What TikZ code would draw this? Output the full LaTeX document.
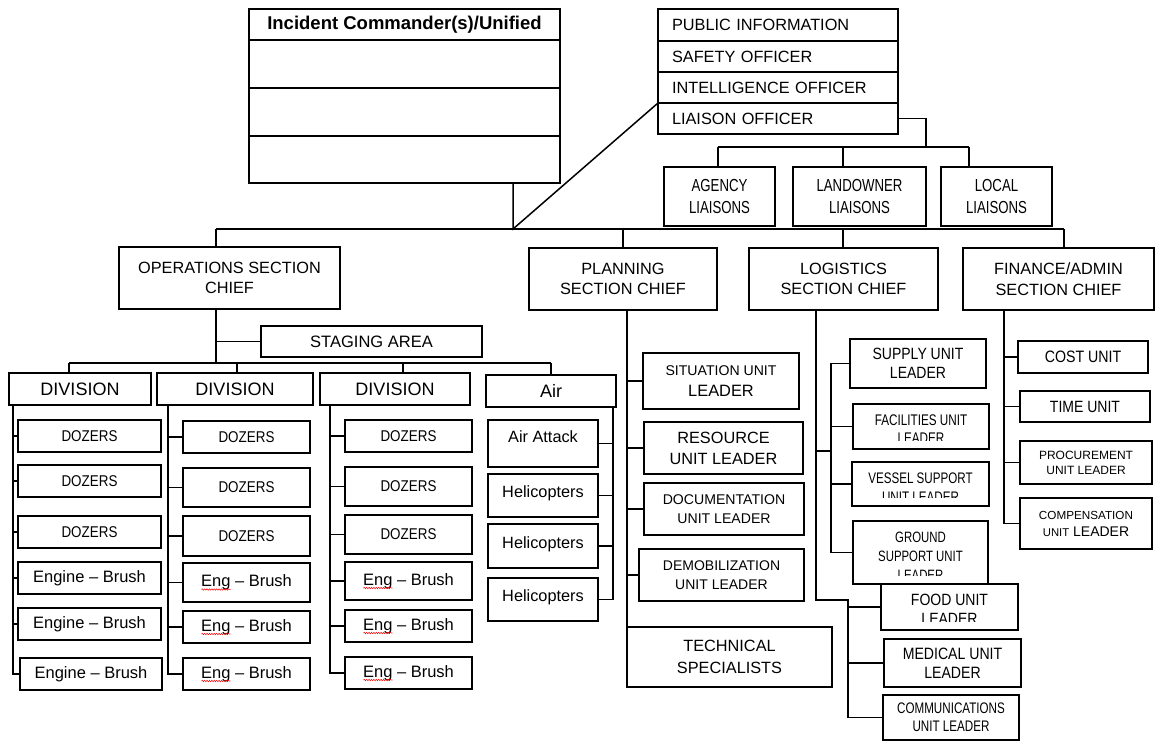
\documentclass[tikz,border=0pt]{standalone}
\usepackage{fontspec}
\usetikzlibrary{decorations.pathmorphing}
\setmainfont{Liberation Sans}
\newfontfamily\narrowfont{Liberation Sans}[FakeStretch=0.76]
\newfontfamily\semifont{Liberation Sans}[FakeStretch=0.86]
\newcommand{\fz}[2]{\fontsize{#1}{#2}\selectfont}
\tikzset{
    box/.style={draw, line width=1.5pt, anchor=north west, inner sep=0pt, outer sep=0pt, align=center},
    wh/.style 2 args={minimum width=#1pt, minimum height=#2pt},
    link/.style={line width=1.5pt},
    officer/.style={box, align=left, text width=212pt, inner xsep=14pt, font=\fz{16.3}{20}},
    liaisons/.style={box, font=\narrowfont\fz{17.4}{22.5}},
    chief/.style={box, font=\fz{16.3}{20.7}},
    division/.style={box, font=\fz{18}{22}},
    dozer/.style={box, font=\semifont\fz{15.6}{19}},
    engine/.style={box, font=\fz{16.5}{20}},
    aircraft/.style={box, font=\fz{16.3}{20}, text depth=#1pt},
    cuttext/.style={anchor=north, inner sep=0pt, align=center},
    spellmark/.style={red, line width=0.5pt, decorate, decoration={snake, amplitude=0.7pt, segment length=2.4pt}},
}
\begin{document}
\begin{tikzpicture}[x=1pt, y=-1pt]
    \useasboundingbox (0,0) rectangle (1155,742);

    \node[box, wh={311}{31}, font=\bfseries\fz{18.5}{22}] (ic) at (249,9) {Incident Commander(s)/Unified};
    \node[box, wh={311}{48}] (ic1) at (249,40) {};
    \node[box, wh={311}{48}] (ic2) at (249,88) {};
    \node[box, wh={311}{47}] (ic3) at (249,136) {};

    \node[officer, wh={240}{32}] (pio) at (658,9) {PUBLIC INFORMATION};
    \node[officer, wh={240}{31}] (safety) at (658,41) {SAFETY OFFICER};
    \node[officer, wh={240}{31}] (intel) at (658,72) {INTELLIGENCE OFFICER};
    \node[officer, wh={240}{31}] (liaison) at (658,103) {LIAISON OFFICER};

    \node[liaisons, wh={111}{59}] (agency) at (664,167) {AGENCY\\LIAISONS};
    \node[liaisons, wh={133}{59}] (landowner) at (793,167) {LANDOWNER\\LIAISONS};
    \node[liaisons, wh={111}{59}] (local) at (941,167) {LOCAL\\LIAISONS};

    \coordinate (lr) at (926,147);
    \coordinate (la) at (718,147);
    \coordinate (lb) at (843,147);
    \coordinate (lc) at (969,147);
    \draw[link] (liaison.east) -| (lr);
    \draw[link] (la) -- (lc);
    \draw[link] (la) -- (la |- agency.north);
    \draw[link] (lb) -- (lb |- landowner.north);
    \draw[link] (lc) -- (lc |- local.north);

    \node[chief, wh={221}{62}] (ops) at (119,247) {OPERATIONS SECTION\\CHIEF};
    \node[chief, wh={188}{62}] (plan) at (529,248) {PLANNING\\SECTION CHIEF};
    \node[chief, wh={189}{62}] (log) at (749,248) {LOGISTICS\\SECTION CHIEF};
    \node[chief, wh={191}{62}] (fin) at (963,248) {FINANCE/ADMIN\\SECTION CHIEF};

    \coordinate (icx) at (513,229);
    \draw[link] (ic3.south -| icx) -- (icx) -- (liaison.north west);
    \coordinate (opsx) at (216,229);
    \coordinate (planx) at (623,229);
    \coordinate (logx) at (843,229);
    \coordinate (finx) at (1064,229);
    \draw[link] (opsx) -- (finx);
    \foreach \p/\n in {opsx/ops, planx/plan, logx/log, finx/fin}
        \draw[link] (\p) -- (\p |- \n.north);

    % operations
    \node[box, wh={221}{31}, font=\fz{16.5}{20}] (staging) at (261,326) {STAGING AREA};
    \coordinate (divbus) at (216,363);
    \draw[link] (ops.south -| divbus) -- (divbus);
    \draw[link] (staging.west) -- (staging.west -| divbus);

    \node[division, wh={142}{32}] (div1) at (9,373) {DIVISION};
    \node[division, wh={156}{32}] (div2) at (157,373) {DIVISION};
    \node[division, wh={150}{32}] (div3) at (320,373) {DIVISION};
    \node[division, wh={130}{32}] (air) at (486,375) {Air};

    \coordinate (da) at (69,363);
    \coordinate (db) at (237,363);
    \coordinate (dc) at (403,363);
    \coordinate (dd) at (551,363);
    \draw[link] (da) -- (dd);
    \foreach \p/\n in {da/div1, db/div2, dc/div3, dd/air}
        \draw[link] (\p) -- (\p |- \n.north);

    \node[dozer, wh={143}{32}] (d1a) at (18,420) {DOZERS};
    \node[dozer, wh={143}{32}] (d1b) at (18,465) {DOZERS};
    \node[dozer, wh={143}{32}] (d1c) at (18,516) {DOZERS};
    \node[engine, wh={143}{32}] (d1d) at (18,562) {Engine – Brush};
    \node[engine, wh={143}{32}] (d1e) at (18,608) {Engine – Brush};
    \node[engine, wh={142}{32}] (d1f) at (20,658) {Engine – Brush};

    \node[dozer, wh={127}{32}] (d2a) at (183,421) {DOZERS};
    \node[dozer, wh={127}{39}] (d2b) at (183,468) {DOZERS};
    \node[dozer, wh={127}{40}] (d2c) at (183,516) {DOZERS};
    \node[engine, wh={127}{39}] (d2d) at (183,563) {Eng – Brush};
    \node[engine, wh={127}{32}] (d2e) at (183,611) {Eng – Brush};
    \node[engine, wh={127}{32}] (d2f) at (183,658) {Eng – Brush};

    \node[dozer, wh={127}{32}] (d3a) at (345,420) {DOZERS};
    \node[dozer, wh={127}{39}] (d3b) at (345,467) {DOZERS};
    \node[dozer, wh={127}{39}] (d3c) at (345,515) {DOZERS};
    \node[engine, wh={127}{38}] (d3d) at (345,562) {Eng – Brush};
    \node[engine, wh={127}{32}] (d3e) at (345,610) {Eng – Brush};
    \node[engine, wh={127}{32}] (d3f) at (345,657) {Eng – Brush};

    \foreach \b in {d2d,d2e,d2f,d3d,d3e,d3f}
        \draw[spellmark] ([xshift=-45pt, yshift=-7pt]\b.center) -- ([xshift=-16pt, yshift=-7pt]\b.center);

    \node[aircraft=13, wh={110}{47}] (aa) at (488,420) {Air Attack};
    \node[aircraft=7, wh={110}{43}] (h1) at (488,474) {Helicopters};
    \node[aircraft=7, wh={110}{44}] (h2) at (488,524) {Helicopters};
    \node[aircraft=7, wh={110}{43}] (h3) at (488,578) {Helicopters};

    \coordinate (s1) at (13,0);
    \coordinate (s2) at (168,0);
    \coordinate (s3) at (330,0);
    \coordinate (s4) at (613,0);
    \draw[link] (div1.south -| s1) |- (d1f.west);
    \draw[link] (div2.south -| s2) |- (d2f.west);
    \draw[link] (div3.south -| s3) |- (d3f.west);
    \draw[link] (air.south -| s4) |- (h3.east);
    \foreach \b in {d1a,d1b,d1c,d1d,d1e}
        \draw[link] (\b.west -| s1) -- (\b.west);
    \foreach \b in {d2a,d2b,d2c,d2d,d2e}
        \draw[link] (\b.west -| s2) -- (\b.west);
    \foreach \b in {d3a,d3b,d3c,d3d,d3e}
        \draw[link] (\b.west -| s3) -- (\b.west);
    \foreach \b in {aa,h1,h2}
        \draw[link] (\b.east -| s4) -- (\b.east);

    % planning
    \node[box, wh={156}{56}, font=\fz{16.4}{21}] (situ) at (643,353) {{\fz{14.1}{21}SITUATION UNIT}\\LEADER};
    \node[box, wh={159}{52}, font=\fz{16.3}{21}] (res) at (644,422) {RESOURCE\\UNIT LEADER};
    \node[box, wh={160}{52}, font=\fz{14.1}{19}] (doc) at (644,483) {DOCUMENTATION\\UNIT LEADER};
    \node[box, wh={165}{52}, font=\fz{14}{19}] (demob) at (639,549) {DEMOBILIZATION\\UNIT LEADER};
    \node[box, wh={205}{60}, font=\fz{16.3}{22}] (tech) at (627,627) {TECHNICAL\\SPECIALISTS};

    \coordinate (px) at (627,0);
    \draw[link] (plan.south -| px) -- (tech.north west);
    \foreach \b in {situ,res,doc,demob}
        \draw[link] (\b.west -| px) -- (\b.west);

    % logistics
    \node[box, wh={136}{49}, font=\semifont\fz{16.3}{19}] (supply) at (850,339) {SUPPLY UNIT\\LEADER};
    \node[box, wh={136}{45}] (fac) at (853,404) {};
    \node[box, wh={137}{44}] (vessel) at (852,462) {};
    \node[box, wh={135}{63}] (ground) at (853,521) {};
    \node[box, wh={137}{46}] (food) at (881,584) {};
    \node[box, wh={137}{48}, font=\semifont\fz{16.4}{19}] (med) at (884,639) {MEDICAL UNIT\\LEADER};
    \node[box, wh={136}{45}, font=\narrowfont\fz{15.3}{18}] (comm) at (883,695) {COMMUNICATIONS\\UNIT LEADER};

    \begin{scope}
        \clip (fac.north west) rectangle ([yshift=8.5pt]fac.south east);
        \node[cuttext, font=\narrowfont\fz{15.4}{18}] (factext) at ([yshift=-10.5pt]fac.north) {FACILITIES UNIT\\LEADER};
    \end{scope}
    \begin{scope}
        \clip (vessel.north west) rectangle ([yshift=8.5pt]vessel.south east);
        \node[cuttext, font=\narrowfont\fz{15.3}{19}] (vesseltext) at ([yshift=-10.5pt]vessel.north) {VESSEL SUPPORT\\UNIT LEADER};
    \end{scope}
    \begin{scope}
        \clip (ground.north west) rectangle ([yshift=8.5pt]ground.south east);
        \node[cuttext, font=\narrowfont\fz{15}{19}] (groundtext) at ([yshift=-10.5pt]ground.north) {GROUND\\SUPPORT UNIT\\LEADER};
    \end{scope}
    \begin{scope}
        \clip (food.north west) rectangle ([yshift=8.5pt]food.south east);
        \node[cuttext, font=\semifont\fz{16.3}{18.5}] (foodtext) at ([yshift=-10pt]food.north) {FOOD UNIT\\LEADER};
    \end{scope}

    \coordinate (lbend) at (816,600);
    \coordinate (lsub) at (831,451);
    \coordinate (llow) at (848,0);
    \draw[link] (log.south -| lbend) -- (lbend) -| (comm.west -| llow) -- (comm.west);
    \foreach \b in {food,med}
        \draw[link] (\b.west -| llow) -- (\b.west);
    \draw[link] (lsub -| lbend) -- (lsub);
    \draw[link] (supply.west) -| (ground.west -| lsub) -- (ground.west);
    \foreach \b in {fac,vessel}
        \draw[link] (\b.west -| lsub) -- (\b.west);

    % finance
    \node[box, wh={130}{32}, font=\semifont\fz{16.5}{20}] (cost) at (1018,341) {COST UNIT};
    \node[box, wh={130}{31}, font=\semifont\fz{16.3}{20}] (time) at (1020,391) {TIME UNIT};
    \node[box, wh={132}{43}, font=\fz{12}{15}] (proc) at (1020,441) {PROCUREMENT\\UNIT LEADER};
    \node[box, wh={132}{51}, font=\fz{14}{17}] (comp) at (1020,498) {{\fz{11.7}{17}COMPENSATION}\\{\fz{11.3}{17}UNIT} LEADER};

    \coordinate (fx) at (1004,0);
    \draw[link] (fin.south -| fx) |- (comp.west);
    \foreach \b in {cost,time,proc}
        \draw[link] (\b.west -| fx) -- (\b.west);
\end{tikzpicture}
\end{document}
